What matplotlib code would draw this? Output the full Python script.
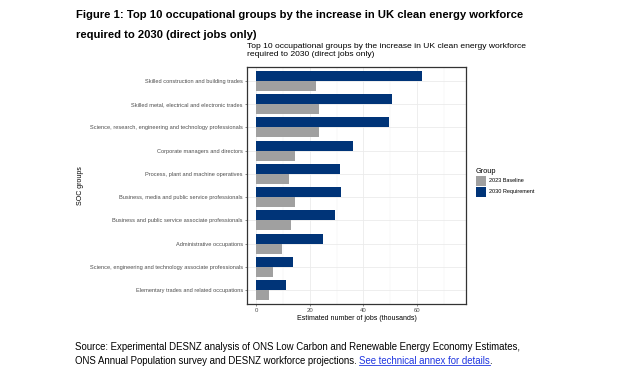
import matplotlib
matplotlib.use("Agg")
import matplotlib.pyplot as plt
from matplotlib.patches import Patch
import numpy as np

plt.rcParams['font.family'] = ['Liberation Sans', 'DejaVu Sans']

categories = [
    "Skilled construction and building trades",
    "Skilled metal, electrical and electronic trades",
    "Science, research, engineering and technology professionals",
    "Corporate managers and directors",
    "Process, plant and machine operatives",
    "Business, media and public service professionals",
    "Business and public service associate professionals",
    "Administrative occupations",
    "Science, engineering and technology associate professionals",
    "Elementary trades and related occupations",
]
baseline_2023 = [22.3, 23.4, 23.4, 14.6, 12.3, 14.6, 13.1, 9.7, 6.4, 4.9]
requirement_2030 = [62.1, 50.8, 49.7, 36.1, 31.2, 31.5, 29.5, 24.8, 13.7, 11.1]
series_labels = ["2023 Baseline", "2030 Requirement"]
colors = ["#A0A0A0", "#003478"]
xticks = [0, 20, 40, 60]

W, H = 627, 376
fig = plt.figure(figsize=(W / 100, H / 100), dpi=100)
fig.patch.set_facecolor("white")

def fx(px):
    return px / W

def fy(py):
    return 1 - py / H

# axes: x 247..466, y 67..304
ax = fig.add_axes([fx(247), fy(304), fx(466) - fx(247), (304 - 67) / H])

y = np.arange(len(categories))
bh = 0.43
ax.barh(y + bh / 2, baseline_2023, height=bh, color=colors[0], zorder=3)
ax.barh(y - bh / 2, requirement_2030, height=bh, color=colors[1], zorder=3)

ax.set_xlim(-3.5, 78.4)
ax.set_ylim(len(categories) - 0.4, -0.6)
ax.set_xticks(xticks)
ax.set_xticklabels([str(t) for t in xticks], fontsize=4.3, color="#4D4D4D")
ax.set_xticks([10, 30, 50, 70], minor=True)
ax.set_yticks(y)
ax.set_yticklabels(categories, fontsize=4.1, color="#4D4D4D")
ax.tick_params(axis="both", which="both", length=1.5, width=0.4, color="#333333", pad=1.5)
ax.tick_params(axis="x", which="minor", length=0)
ax.grid(True, which="major", color="#EBEBEB", linewidth=0.6, zorder=0)
ax.grid(True, which="minor", axis="x", color="#F2F2F2", linewidth=0.35, zorder=0)
for s in ax.spines.values():
    s.set_color("#333333")
    s.set_linewidth(0.9)

ax.set_xlabel("Estimated number of jobs (thousands)", fontsize=5.0, labelpad=1.5)
ax.set_ylabel("SOC groups", fontsize=5.0)
ax.yaxis.set_label_coords((84 - 247) / (466 - 247), 0.5)

# chart title
fig.text(fx(247), fy(43), "Top 10 occupational groups by the increase in UK clean energy workforce\nrequired to 2030 (direct jobs only)",
         fontsize=6.1, ha="left", va="top", linespacing=1.2)

# legend
handles = [Patch(facecolor=colors[0], edgecolor="none"), Patch(facecolor=colors[1], edgecolor="none")]
leg = fig.legend(handles, series_labels, title="Group", loc="upper left",
                 bbox_to_anchor=(fx(476), fy(168)), frameon=False, fontsize=4.0,
                 title_fontsize=5.3, handlelength=1.8, handleheight=2.5,
                 labelspacing=0.1, handletextpad=0.5, borderaxespad=0, borderpad=0)
leg._legend_box.align = "left"

# document title
fig.text(fx(76), fy(10), "Figure 1: Top 10 occupational groups by the increase in UK clean energy workforce",
         fontsize=8.1, fontweight="bold", ha="left", va="top")
fig.text(fx(76), fy(30), "required to 2030 (direct jobs only)",
         fontsize=8.1, fontweight="bold", ha="left", va="top")

# source
fs = 6.9
fig.text(fx(75), fy(342), "Source: Experimental DESNZ analysis of ONS Low Carbon and Renewable Energy Economy Estimates,",
         fontsize=fs, ha="left", va="top")
t2 = fig.text(fx(75), fy(356), "ONS Annual Population survey and DESNZ workforce projections. ",
              fontsize=fs, ha="left", va="top")
fig.canvas.draw()
r = fig.canvas.get_renderer()
bb = t2.get_window_extent(r)
t3 = fig.text(bb.x1 / W, fy(356), "See technical annex for details",
              fontsize=fs, ha="left", va="top", color="#1F35E0")
bb3 = t3.get_window_extent(r)
fig.text((bb3.x1 - 1) / W, fy(356), ".", fontsize=fs, ha="left", va="top")
uy = (bb3.y0 + 1.0) / H
fig.add_artist(plt.Line2D([bb3.x0 / W, bb3.x1 / W], [uy, uy], color="#1F35E0", linewidth=0.6,
                          transform=fig.transFigure))

fig.savefig("out.png", dpi=100, facecolor="white")
